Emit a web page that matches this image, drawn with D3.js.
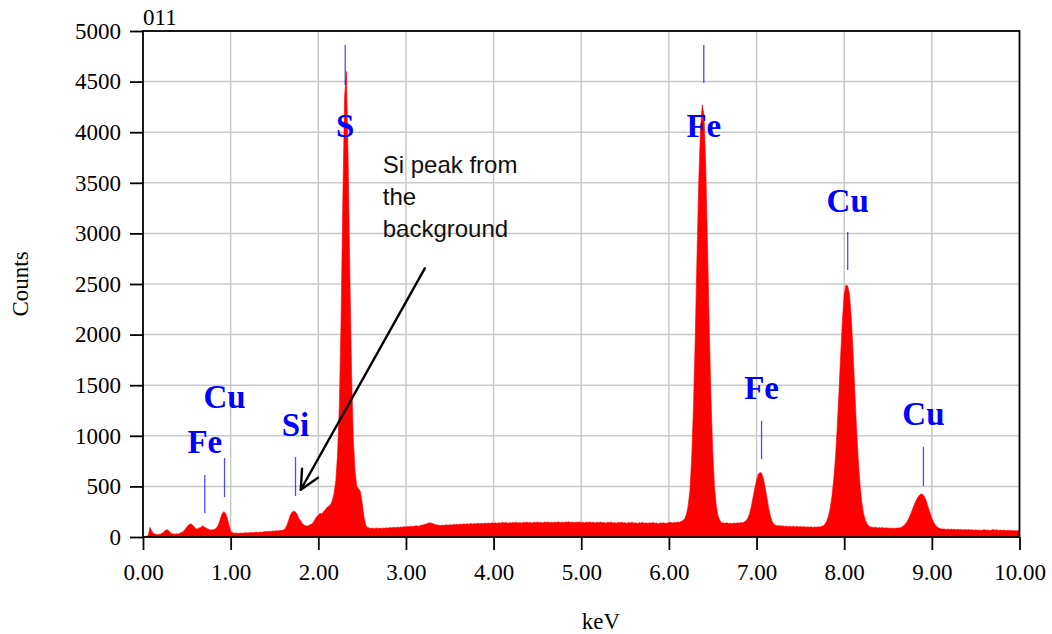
<!DOCTYPE html>
<html>
<head>
<meta charset="utf-8">
<style>
  body { margin: 0; background: #fff; }
  svg { display: block; }
</style>
<script src="https://cdn.jsdelivr.net/npm/d3@7"></script>
</head>
<body>
<script>

// spectrum counts, one value per 0.02 keV channel
var lowEnergy = [ // 0.00 - 1.98 keV
  0, 5, 8, 15, 95, 60, 35, 28, 22, 25,
  30, 38, 52, 68, 72, 55, 38, 30, 28, 32,
  30, 38, 45, 55, 75, 100, 118, 130, 122, 105,
  85, 80, 90, 95, 110, 100, 88, 80, 72, 68,
  72, 78, 90, 120, 170, 225, 250, 238, 190, 120,
  60, 42, 38, 40, 36, 38, 40, 37, 42, 40,
  43, 41, 45, 43, 46, 48, 45, 50, 48, 52,
  55, 53, 57, 55, 60, 58, 62, 60, 65, 63,
  68, 80, 110, 160, 215, 245, 255, 248, 220, 180,
  160, 130, 115, 112, 108, 118, 125, 140, 170, 200
];
var sulfurRegion = [ // 2.00 - 3.98 keV
  215, 235, 228, 250, 270, 295, 305, 320, 360, 430,
  560, 820, 1300, 2150, 3350, 4350, 4600, 3750, 2600, 1600,
  960, 640, 500, 475, 450, 340, 205, 120, 95, 90,
  85, 88, 82, 90, 85, 88, 84, 90, 86, 92,
  88, 94, 90, 96, 92, 98, 95, 100, 97, 102,
  99, 104, 101, 106, 103, 108, 110, 107, 112, 116,
  120, 126, 132, 138, 140, 134, 128, 122, 118, 115,
  113, 118, 115, 120, 116, 122, 118, 124, 120, 126,
  122, 128, 124, 130, 125, 131, 127, 133, 128, 134,
  129, 135, 130, 136, 132, 138, 133, 139, 134, 140
];
var midBackground = [ // 4.00 - 5.98 keV
  136, 140, 134, 142, 137, 145, 139, 143, 136, 141,
  138, 144, 140, 146, 139, 143, 137, 145, 141, 147,
  140, 144, 138, 146, 142, 148, 141, 145, 139, 147,
  143, 149, 141, 146, 140, 148, 144, 150, 142, 147,
  141, 149, 145, 151, 143, 147, 140, 148, 144, 150,
  142, 146, 139, 147, 143, 149, 141, 145, 138, 146,
  142, 148, 140, 144, 137, 145, 141, 147, 139, 143,
  136, 144, 140, 146, 138, 142, 135, 143, 139, 145,
  137, 141, 134, 142, 138, 144, 136, 140, 133, 141,
  137, 143, 135, 139, 132, 140, 136, 142, 134, 138
];
var ironRegion = [ // 6.00 - 7.98 keV
  140, 146, 138, 144, 141, 148, 145, 152, 162, 180,
  225, 310, 460, 780, 1280, 1950, 2750, 3500, 4020, 4270,
  4170, 3680, 2900, 2080, 1370, 850, 500, 310, 210, 165,
  142, 138, 135, 140, 134, 137, 132, 138, 135, 140,
  137, 143, 140, 148, 160, 185, 230, 300, 390, 480,
  560, 620, 640, 625, 570, 480, 380, 280, 200, 150,
  125, 115, 110, 112, 108, 110, 104, 108, 102, 107,
  101, 106, 100, 105, 99, 104, 98, 103, 97, 102,
  96, 101, 95, 100, 96, 102, 98, 104, 110, 125,
  155, 205, 285, 400, 560, 780, 1080, 1430, 1800, 2150
];
var copperRegion = [ // 8.00 - 10.00 keV
  2400, 2490, 2480, 2400, 2180, 1850, 1460, 1090, 770, 520,
  350, 235, 170, 130, 110, 100, 96, 92, 97, 90,
  94, 88, 93, 87, 92, 86, 90, 85, 89, 84,
  88, 90, 92, 100, 112, 130, 155, 190, 230, 275,
  320, 360, 392, 415, 425, 418, 390, 345, 290, 235,
  185, 145, 118, 100, 90, 82, 78, 80, 75, 79,
  74, 78, 73, 77, 72, 76, 71, 75, 70, 74,
  69, 73, 68, 72, 67, 71, 66, 70, 65, 69,
  72, 66, 70, 64, 68, 73, 67, 71, 65, 69,
  64, 68, 63, 67, 62, 66, 61, 65, 60, 64,
  62
];
var segmentStarts = [0, 2, 4, 6, 8];
var channelWidth = 0.02;

// element lines: energy (keV), marker top / bottom and label baseline in counts
var elements  = ['Fe', 'Cu', 'Si', 'S', 'Fe', 'Fe', 'Cu', 'Cu'];
var lineKeV   = [0.705, 0.930, 1.740, 2.307, 6.398, 7.057, 8.040, 8.904];
var markTop   = [613, 781, 790, 4862, 4862, 1146, 3014, 889];
var markBot   = [237, 395, 405, 4466, 4486, 771, 2638, 504];
var labelAt   = [830, 1275, 998, 3953, 3953, 1364, 3208, 1107];

var xTicks = [0, 1, 2, 3, 4, 5, 6, 7, 8, 9, 10];
var yTicks = [0, 500, 1000, 1500, 2000, 2500, 3000, 3500, 4000, 4500, 5000];

var noteLines = ['Si peak from', 'the', 'background'];
var noteAt    = [2.735, 3600];          // keV, counts of first baseline
var arrowTail = [3.215, 2655];
var arrowTip  = [1.80, 467];

// ---------------------------------------------------------------------------

var W = 1052, H = 634;
var pL = 143, pR = 1019.5, pT = 31, pB = 537;

var svg = d3.select('body').append('svg')
	.attr('width', W).attr('height', H);
svg.append('rect').attr('width', W).attr('height', H).attr('fill', '#fff');

var x = d3.scaleLinear().domain([0, 10]).range([pL, pR]);
var y = d3.scaleLinear().domain([0, 5000]).range([pB, pT]);

var serif = '"Liberation Serif", "Times New Roman", serif';

// grid
var grid = svg.append('g')
	.attr('stroke', '#c8c8c8')
	.attr('stroke-width', 1.5);
grid.selectAll('.vx')
	.data(xTicks.filter(d => d > 0 && d < 10))
	.join('line')
		.attr('x1', d => x(d)).attr('x2', d => x(d))
		.attr('y1', pT).attr('y2', pB);
grid.selectAll('.hy')
	.data(yTicks.filter(d => d > 0 && d < 5000))
	.join('line')
		.attr('x1', pL).attr('x2', pR)
		.attr('y1', d => y(d)).attr('y2', d => y(d));

// spectrum
var spectrum = [lowEnergy, sulfurRegion, midBackground, ironRegion, copperRegion]
	.flatMap((seg, s) => seg.map((c, i) => ({
		keV: segmentStarts[s] + i * channelWidth,
		counts: c
	})));

svg.append('clipPath').attr('id', 'plotclip')
	.append('rect')
		.attr('x', pL).attr('y', pT)
		.attr('width', pR - pL).attr('height', pB - pT);

svg.append('path')
	.datum(spectrum)
	.attr('clip-path', 'url(#plotclip)')
	.attr('fill', '#ff0000')
	.attr('stroke', '#ff0000')
	.attr('stroke-width', 0.6)
	.attr('d', d3.area()
		.x(d => x(d.keV))
		.y0(y(0))
		.y1(d => y(d.counts)));

// element markers and labels
var marks = elements.map((el, i) => ({
	el: el, keV: lineKeV[i], top: markTop[i], bot: markBot[i], label: labelAt[i]
}));

svg.append('g')
	.selectAll('line')
	.data(marks)
	.join('line')
		.attr('x1', d => x(d.keV)).attr('x2', d => x(d.keV))
		.attr('y1', d => y(d.top)).attr('y2', d => y(d.bot))
		.attr('stroke', '#0000ff')
		.attr('stroke-opacity', 0.7)
		.attr('stroke-width', 1.3);

svg.append('g')
	.selectAll('text')
	.data(marks)
	.join('text')
		.attr('x', d => x(d.keV))
		.attr('y', d => y(d.label))
		.attr('text-anchor', 'middle')
		.attr('font-family', serif)
		.attr('font-weight', 'bold')
		.attr('font-size', 33)
		.attr('fill', '#0000ff')
		.text(d => d.el);

// annotation
svg.append('g')
	.selectAll('text')
	.data(noteLines)
	.join('text')
		.attr('x', x(noteAt[0]))
		.attr('y', (d, i) => y(noteAt[1]) + i * 32)
		.attr('font-family', '"Liberation Sans", Arial, sans-serif')
		.attr('font-size', 24)
		.attr('fill', '#111')
		.text(d => d);

var tx = x(arrowTail[0]), ty = y(arrowTail[1]);
var hx = x(arrowTip[0]),  hy = y(arrowTip[1]);
var ang = Math.atan2(hy - ty, hx - tx);
var headLen = 21, spread = 0.45;
var arrow = svg.append('g')
	.attr('stroke', '#000')
	.attr('stroke-width', 2.4)
	.attr('fill', 'none')
	.attr('stroke-linecap', 'round')
	.attr('stroke-linejoin', 'round');
arrow.append('line')
	.attr('x1', tx).attr('y1', ty)
	.attr('x2', hx).attr('y2', hy);
arrow.append('path')
	.attr('d', `M${hx - headLen * Math.cos(ang - spread)},${hy - headLen * Math.sin(ang - spread)}`
		+ `L${hx},${hy}`
		+ `L${hx - headLen * Math.cos(ang + spread)},${hy - headLen * Math.sin(ang + spread)}`);

// axes
var fmt = d3.format('.2f');
var xAxis = svg.append('g')
	.attr('transform', `translate(0,${pB})`)
	.call(d3.axisBottom(x).tickValues(xTicks).tickFormat(fmt)
		.tickSize(13).tickSizeOuter(0).tickPadding(14));
var yAxis = svg.append('g')
	.attr('transform', `translate(${pL},0)`)
	.call(d3.axisLeft(y).tickValues(yTicks).tickFormat(d => d)
		.tickSize(13).tickSizeOuter(0).tickPadding(9));

[xAxis, yAxis].forEach(a => {
	a.select('.domain').remove();
	a.selectAll('.tick line').attr('stroke', '#000').attr('stroke-width', 1.8);
	a.selectAll('.tick text')
		.attr('font-family', serif)
		.attr('font-size', 23)
		.attr('fill', '#000');
});

// frame
svg.append('rect')
	.attr('x', pL).attr('y', pT)
	.attr('width', pR - pL).attr('height', pB - pT)
	.attr('stroke', '#000')
	.attr('stroke-width', 1.8)
	.attr('fill', 'none');

// titles
svg.append('text')
	.attr('x', pL).attr('y', 25)
	.attr('font-family', serif).attr('font-size', 23)
	.text('011');
svg.append('text')
	.attr('x', 601).attr('y', 629)
	.attr('text-anchor', 'middle')
	.attr('font-family', serif).attr('font-size', 23)
	.text('keV');
svg.append('text')
	.attr('transform', 'translate(28,284) rotate(-90)')
	.attr('text-anchor', 'middle')
	.attr('font-family', serif).attr('font-size', 23)
	.text('Counts');

</script>
</body>
</html>
